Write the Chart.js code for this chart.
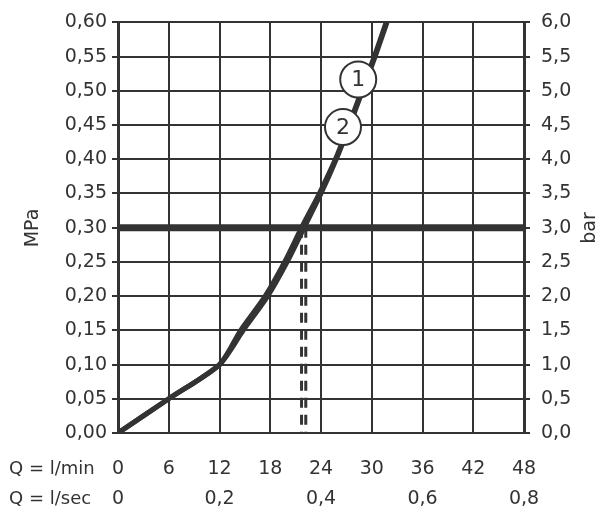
<!DOCTYPE html>
<html>
<head>
<meta charset="utf-8">
<script src="https://cdn.jsdelivr.net/npm/chart.js@4"></script>
<style>
  html, body { margin: 0; padding: 0; background: #fff; }
  #wrap { width: 614px; height: 522px; }
</style>
</head>
<body>
<div id="wrap"><canvas id="chart" width="614" height="522"></canvas></div>
<script>
// flow (l/min) and pressure (MPa)
const flow1 = [0, 6, 12, 14.8, 17.7, 20.0, 22.0, 24.0, 25.8, 27.4, 28.9, 30.4, 31.8];
const pressure1 = [0, 0.05, 0.10, 0.15, 0.20, 0.25, 0.30, 0.35, 0.40, 0.45, 0.50, 0.55, 0.60];
const flow2 = [0, 6, 12, 14.5, 17.4, 19.7, 21.7, 23.8, 25.7, 27.3, 28.8, 30.3, 31.7];
const pressure2 = [0, 0.05, 0.10, 0.15, 0.20, 0.25, 0.30, 0.35, 0.40, 0.45, 0.50, 0.55, 0.60];

const refPressure = 0.30;
const dropFlows = [21.7, 22.2];

const markerNames = ['1', '2'];
const markerFlow = [28.4, 26.6];
const markerPressure = [0.5165, 0.447];

const minLabels = ['0', '6', '12', '18', '24', '30', '36', '42', '48'];
const secLabels = ['0', '0,2', '0,4', '0,6', '0,8'];
const mpaLabels = ['0,00', '0,05', '0,10', '0,15', '0,20', '0,25', '0,30', '0,35', '0,40', '0,45', '0,50', '0,55', '0,60'];
const barLabels = ['0,0', '0,5', '1,0', '1,5', '2,0', '2,5', '3,0', '3,5', '4,0', '4,5', '5,0', '5,5', '6,0'];

const ink = '#333333';
const fontFamily = '"DejaVu Sans", sans-serif';
const tickFont = { family: fontFamily, size: 19 };

function pts(xs, ys) {
    return xs.map((x, i) => ({ x: x, y: ys[i] }));
}

const extraText = {
    id: 'extraText',
    afterDatasetsDraw(chart) {
        const ctx = chart.ctx;
        const meta = chart.getDatasetMeta(0);
        ctx.save();
        ctx.fillStyle = ink;
        ctx.textAlign = 'center';
        ctx.textBaseline = 'middle';
        ctx.font = '22px ' + fontFamily;
        meta.data.forEach((p, i) => {
            ctx.fillText(markerNames[i], p.x, p.y + 1);
        });
        ctx.font = '19px ' + fontFamily;
        // axis names
        ctx.save();
        ctx.translate(33, 228);
        ctx.rotate(-Math.PI / 2);
        ctx.fillText('MPa', 0, 0);
        ctx.restore();
        ctx.save();
        ctx.translate(590, 228);
        ctx.rotate(-Math.PI / 2);
        ctx.fillText('bar', 0, 0);
        ctx.restore();
        ctx.font = '18px ' + fontFamily;
        ctx.textAlign = 'left';
        ctx.fillText('Q = l/min', 9, chart.scales.x.top + 36);
        ctx.fillText('Q = l/sec', 9, chart.scales.x2.top + 21);
        ctx.restore();
    }
};

const ctx = document.getElementById('chart').getContext('2d');
new Chart(ctx, {
    type: 'scatter',
    data: {
        datasets: [
            {
                data: pts(markerFlow, markerPressure),
                pointRadius: 18,
                pointBackgroundColor: '#fff',
                pointBorderColor: ink,
                pointBorderWidth: 2,
                showLine: false
            },
            {
                data: pts(flow1, pressure1),
                showLine: true,
                borderColor: ink,
                borderWidth: 5,
                tension: 0.25,
                pointRadius: 0
            },
            {
                data: pts(flow2, pressure2),
                showLine: true,
                borderColor: ink,
                borderWidth: 5,
                tension: 0.25,
                pointRadius: 0
            },
            {
                data: [{ x: dropFlows[0], y: refPressure }, { x: dropFlows[0], y: 0 }],
                showLine: true,
                borderColor: ink,
                borderWidth: 3,
                borderDash: [10, 7],
                pointRadius: 0
            },
            {
                data: [{ x: dropFlows[1], y: refPressure }, { x: dropFlows[1], y: 0 }],
                showLine: true,
                borderColor: ink,
                borderWidth: 3,
                borderDash: [10, 7],
                pointRadius: 0
            },
            {
                data: [{ x: 0, y: refPressure }, { x: 48, y: refPressure }],
                showLine: true,
                borderColor: ink,
                borderWidth: 7,
                pointRadius: 0
            }
        ]
    },
    options: {
        responsive: false,
        animation: false,
        layout: { padding: { left: 0, right: 0, top: 21, bottom: 0 } },
        plugins: {
            legend: { display: false },
            tooltip: { enabled: false }
        },
        scales: {
            x: {
                type: 'linear',
                position: 'bottom',
                weight: 0,
                min: 0,
                max: 48,
                afterFit: s => { s.height = 45; },
                ticks: {
                    stepSize: 6,
                    color: ink,
                    font: tickFont,
                    padding: 25,
                    maxRotation: 0,
                    callback: (v, i) => minLabels[i]
                },
                grid: { color: ink, lineWidth: 2, drawTicks: false },
                border: { color: ink, width: 2 }
            },
            x2: {
                type: 'linear',
                position: 'bottom',
                weight: 1,
                min: 0,
                max: 0.8,
                afterFit: s => { s.height = 44; },
                ticks: {
                    stepSize: 0.2,
                    color: ink,
                    font: tickFont,
                    padding: 2,
                    maxRotation: 0,
                    callback: (v, i) => secLabels[i]
                },
                grid: { display: false },
                border: { display: false }
            },
            y: {
                position: 'left',
                min: 0,
                max: 0.6,
                afterFit: s => { s.width = 118; },
                ticks: {
                    stepSize: 0.05,
                    color: ink,
                    font: tickFont,
                    padding: 5,
                    callback: (v, i) => mpaLabels[i]
                },
                grid: { color: ink, lineWidth: 2, tickLength: 6 },
                border: { color: ink, width: 3 }
            },
            y2: {
                position: 'right',
                min: 0,
                max: 6,
                afterFit: s => { s.width = 90; },
                ticks: {
                    stepSize: 0.5,
                    color: ink,
                    font: tickFont,
                    padding: 11,
                    callback: (v, i) => barLabels[i]
                },
                grid: { color: ink, lineWidth: 2, tickLength: 6, drawOnChartArea: false },
                border: { color: ink, width: 3 }
            }
        }
    },
    plugins: [extraText]
});
</script>
</body>
</html>
